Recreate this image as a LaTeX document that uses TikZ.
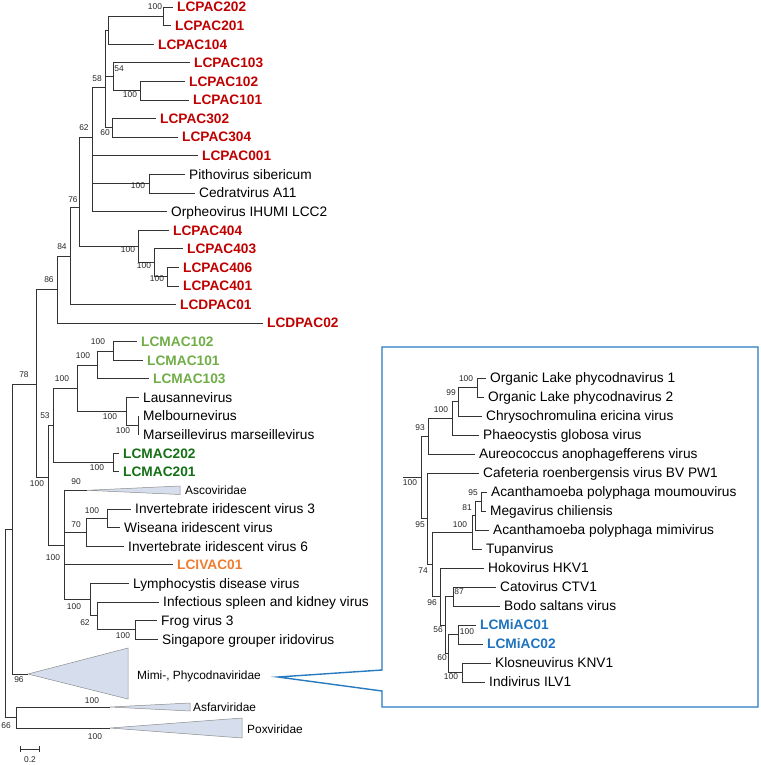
\documentclass[tikz,border=0pt]{standalone}
\usepackage{fontspec}
\setmainfont{Liberation Sans}
\usetikzlibrary{positioning}
\definecolor{pacred}{RGB}{192,0,0}
\definecolor{maclight}{RGB}{112,173,71}
\definecolor{macdark}{RGB}{20,112,20}
\definecolor{ivorange}{RGB}{237,125,49}
\definecolor{miblue}{RGB}{30,115,190}
\definecolor{boxblue}{RGB}{40,122,192}
\definecolor{cladefill}{RGB}{214,222,238}
\tikzset{
  branch/.style={draw=black!80, line width=0.7pt},
  leaf/.style={anchor=west, inner xsep=4pt, inner ysep=0pt, text height=9.8pt,
    text depth=0pt, font=\fontsize{13.7}{15}\selectfont},
  lcbold/.style={leaf, font=\fontsize{13.7}{15}\selectfont\bfseries},
  lcpac/.style={lcbold, text=pacred},
  lcmac/.style={lcbold, text=maclight},
  lcmacd/.style={lcbold, text=macdark},
  lcivac/.style={lcbold, text=ivorange},
  lcmiac/.style={lcbold, text=miblue},
  boot/.style={inner sep=0pt, text=black!85, font=\fontsize{8.4}{9}\selectfont},
  clade/.style={draw=black!45, fill=cladefill, line width=0.5pt},
  cladelbl/.style={anchor=west, inner sep=0pt, font=\fontsize{11.9}{13}\selectfont},
  callout/.style={draw=boxblue, line width=1.4pt, line join=miter},
}
\begin{document}
\begin{tikzpicture}[x=1pt, y=-1pt]
\useasboundingbox (0,0) rectangle (760,765);

% main tree: leaves
\node[lcpac] (pac202) at (173,7) {LCPAC202};
\node[lcpac] (pac201) at (171,25.6) {LCPAC201};
\node[lcpac] (pac104) at (154,44.2) {LCPAC104};
\node[lcpac] (pac103) at (190,62.8) {LCPAC103};
\node[lcpac] (pac102) at (185,81.4) {LCPAC102};
\node[lcpac] (pac101) at (189,100) {LCPAC101};
\node[lcpac] (pac302) at (156,118.5) {LCPAC302};
\node[lcpac] (pac304) at (178,137.1) {LCPAC304};
\node[lcpac] (pac001) at (198,155.7) {LCPAC001};
\node[leaf] (pith) at (185,174.3) {Pithovirus sibericum};
\node[leaf] (cedr) at (195,192.9) {Cedratvirus A11};
\node[leaf] (orph) at (167,211.5) {Orpheovirus IHUMI LCC2};
\node[lcpac] (pac404) at (169,230.1) {LCPAC404};
\node[lcpac] (pac403) at (183,248.7) {LCPAC403};
\node[lcpac] (pac406) at (179,267.3) {LCPAC406};
\node[lcpac] (pac401) at (179,285.9) {LCPAC401};
\node[lcpac] (dpac01) at (176,304.4) {LCDPAC01};
\node[lcpac] (dpac02) at (263,323) {LCDPAC02};
\node[lcmac] (mac102) at (137,341.6) {LCMAC102};
\node[lcmac] (mac101) at (143,360.2) {LCMAC101};
\node[lcmac] (mac103) at (149,378.8) {LCMAC103};
\node[leaf] (laus) at (139,397.4) {Lausannevirus};
\node[leaf] (melb) at (139,416) {Melbournevirus};
\node[leaf] (mars) at (139,434.6) {Marseillevirus marseillevirus};
\node[lcmacd] (mac202) at (119,453.2) {LCMAC202};
\node[lcmacd] (mac201) at (119,471.8) {LCMAC201};
\node[leaf] (iiv3) at (131,508.9) {Invertebrate iridescent virus 3};
\node[leaf] (wise) at (120,527.5) {Wiseana iridescent virus};
\node[leaf] (iiv6) at (124,546.1) {Invertebrate iridescent virus 6};
\node[lcivac] (ivac) at (173,564.7) {LCIVAC01};
\node[leaf] (lymph) at (129,583.3) {Lymphocystis disease virus};
\node[leaf] (iskv) at (159,601.9) {Infectious spleen and kidney virus};
\node[leaf] (frog) at (157,620.5) {Frog virus 3};
\node[leaf] (sing) at (158,639.1) {Singapore grouper iridovirus};

% collapsed clades
\coordinate (asco) at (87,490.3);
\coordinate (mimi) at (28,674);
\coordinate (asfar) at (110,707);
\coordinate (pox) at (110,728);
\draw[clade] (asco) -- (180,486) -- (180,494.5) -- cycle;
\draw[clade] (mimi) -- (128,648) -- (128,699) -- cycle;
\draw[clade] (asfar) -- (190,703) -- (190,711) -- cycle;
\draw[clade] (pox) -- (242,718) -- (242,738) -- cycle;
\node[cladelbl] (ascolbl) at (185,490.3) {Ascoviridae};
\node[cladelbl] (mimilbl) at (137,676) {Mimi-, Phycodnaviridae};
\node[cladelbl] (asfarlbl) at (193,707) {Asfarviridae};
\node[cladelbl] (poxlbl) at (247,729) {Poxviridae};

% main tree: inner nodes
\coordinate (n202) at (163,16.3);
\coordinate (nA) at (108,30);
\coordinate (n102) at (140,90.7);
\coordinate (nB) at (113,76);
\coordinate (nC) at (112,127.8);
\coordinate (nD) at (105,87);
\coordinate (nPith) at (149,183.6);
\coordinate (nE) at (92,137);
\coordinate (nJ) at (167,276.6);
\coordinate (nI) at (154,262.7);
\coordinate (nH) at (138,246.4);
\coordinate (nF) at (79,207);
\coordinate (nG) at (70,256);
\coordinate (nK) at (57,289.5);
\coordinate (nT) at (113,350.9);
\coordinate (nS) at (97,364.9);
\coordinate (nV) at (138,425.3);
\coordinate (nU) at (126,411.3);
\coordinate (nR) at (77,388.1);
\coordinate (nW) at (113,462.5);
\coordinate (nP) at (53,425.3);
\coordinate (nZ) at (107,518.2);
\coordinate (nX) at (86,532.1);
\coordinate (nBB) at (135,629.8);
\coordinate (nAA) at (97,615.8);
\coordinate (nY) at (90,599.5);
\coordinate (nQ) at (64,544.9);
\coordinate (nM) at (48,477);
\coordinate (nL) at (36,384);
\coordinate (nN) at (12,529);
\coordinate (nO) at (16,717.5);
\coordinate (root) at (5,623);

\foreach \p/\c in {n202/pac202, n202/pac201, nA/n202, nA/pac104, n102/pac102,
    n102/pac101, nB/pac103, nB/n102, nC/pac302, nC/pac304, nD/nA, nD/nB, nD/nC,
    nPith/pith, nPith/cedr, nE/nD, nE/pac001, nE/nPith, nE/orph, nJ/pac406,
    nJ/pac401, nI/pac403, nI/nJ, nH/pac404, nH/nI, nF/nE, nF/nH, nG/nF,
    nG/dpac01, nK/nG, nK/dpac02, nT/mac102, nT/mac101, nS/nT, nS/mac103,
    nV/melb, nV/mars, nU/laus, nU/nV, nR/nS, nR/nU, nW/mac202, nW/mac201,
    nP/nR, nP/nW, nZ/iiv3, nZ/wise, nX/nZ, nX/iiv6, nBB/frog, nBB/sing,
    nAA/iskv, nAA/nBB, nY/lymph, nY/nAA, nQ/asco, nQ/nX, nQ/ivac, nQ/nY,
    nM/nP, nM/nQ, nL/nK, nL/nM, nN/nL, nN/mimi, nO/asfar, nO/pox,
    root/nN, root/nO}
  \draw[branch] (\p) |- (\c);

% bootstrap values
\foreach \n/\x/\y/\t in {202/155/7/100, B/119/69/54, 102/130/95/100, D/97/79/58,
    C/105/133/60, E/84/128/62, Pith/138/186/100, F/73/200/76, H/128/250/100,
    I/144/266/100, J/157/279/100, G/62/247/84, K/49/280/86, T/98/342/100,
    S/83/356/100, R/62/379/100, P/45/416/53, U/110/417/100, V/123/431/100,
    W/97/468/100, L/24/375/78, M/37/484/100, asco/76/482/90, Z/92/511/100,
    X/76/525/70, Q/53/558/100, Y/74/607/100, AA/85/623/62, BB/123/636/100,
    mimi/19/680/96, asfar/92/701/100, pox/95/737/100}
  \node[boot] (b\n) at (\x,\y) {\t};
\node[boot, anchor=east] (broot) at (11,726) {66};

% scale bar
\coordinate (sbl) at (20,749);
\coordinate (sbr) at (39,749);
\draw[branch] (sbl) -- (sbr);
\draw[branch] ([yshift=-3pt]sbl) -- ([yshift=3pt]sbl);
\draw[branch] ([yshift=-3pt]sbr) -- ([yshift=3pt]sbr);
\node[boot] (sblbl) at (30,760) {0.2};

% callout box
\coordinate (callpt) at (278,677);
\draw[callout] (382,670) -- (callpt) -- (382,691) -- (382,707) -- (758,707)
  -- (758,347) -- (382,347) -- cycle;

% inset tree: leaves
\node[leaf] (olpv1) at (486,378) {Organic Lake phycodnavirus 1};
\node[leaf] (olpv2) at (484,397) {Organic Lake phycodnavirus 2};
\node[leaf] (chry) at (482,416) {Chrysochromulina ericina virus};
\node[leaf] (phae) at (479,435) {Phaeocystis globosa virus};
\node[leaf] (aure) at (475,454) {Aureococcus anophagefferens virus};
\node[leaf] (cafe) at (479,473) {Cafeteria roenbergensis virus BV PW1};
\node[leaf] (moum) at (487,492) {Acanthamoeba polyphaga moumouvirus};
\node[leaf] (mega) at (486,511) {Megavirus chiliensis};
\node[leaf] (mimv) at (489,530) {Acanthamoeba polyphaga mimivirus};
\node[leaf] (tupa) at (482,549) {Tupanvirus};
\node[leaf] (hoko) at (484,568) {Hokovirus HKV1};
\node[leaf] (cato) at (496,587) {Catovirus CTV1};
\node[leaf] (bodo) at (500,606) {Bodo saltans virus};
\node[lcmiac] (miac1) at (476,625) {LCMiAC01};
\node[lcmiac] (miac2) at (483,644) {LCMiAC02};
\node[leaf] (klos) at (491,663) {Klosneuvirus KNV1};
\node[leaf] (indi) at (485,682) {Indivirus ILV1};

% inset tree: inner nodes
\coordinate (iOL) at (477,387.5);
\coordinate (i99) at (458,401.7);
\coordinate (i100b) at (452,418.4);
\coordinate (i93) at (428,436.2);
\coordinate (iMM) at (481,501.5);
\coordinate (i81) at (475,515.8);
\coordinate (i100m) at (472,532.4);
\coordinate (i87) at (453,596.5);
\coordinate (iL100) at (458,634.5);
\coordinate (iK100) at (462,672.5);
\coordinate (i60) at (448,653.5);
\coordinate (i56) at (445,625);
\coordinate (i96) at (440,596.5);
\coordinate (i74) at (432,564.5);
\coordinate (i95) at (427,518.7);
\coordinate (iR0) at (421,477.5);
\coordinate (iStub) at (403,477.5);

\foreach \p/\c in {iOL/olpv1, iOL/olpv2, i99/iOL, i99/chry, i100b/i99,
    i100b/phae, i93/i100b, i93/aure, iMM/moum, iMM/mega, i81/iMM, i81/mimv,
    i100m/i81, i100m/tupa, i87/cato, i87/bodo, iL100/miac1, iL100/miac2,
    iK100/klos, iK100/indi, i60/iL100, i60/iK100, i56/i87, i56/i60,
    i96/hoko, i96/i56, i74/i100m, i74/i96, i95/cafe, i95/i74, iR0/i93,
    iR0/i95}
  \draw[branch] (\p) |- (\c);
\draw[branch] (iStub) -- (iR0);

\foreach \n/\x/\y/\t in {OL/466/379/100, 99/451/393/99, 100b/441/410/100,
    93/420/428/93, R0/410/483/100, 95/420/525/95, MM/473/493/95, 81/467/508/81,
    100m/460/525/100, 74/423/571/74, 87/459/592/87, 96/432/603/96,
    56/438/630/56, L100/467/632/100, 60/442/658/60, K100/451/677/100}
  \node[boot] (bi\n) at (\x,\y) {\t};
\end{tikzpicture}
\end{document}
